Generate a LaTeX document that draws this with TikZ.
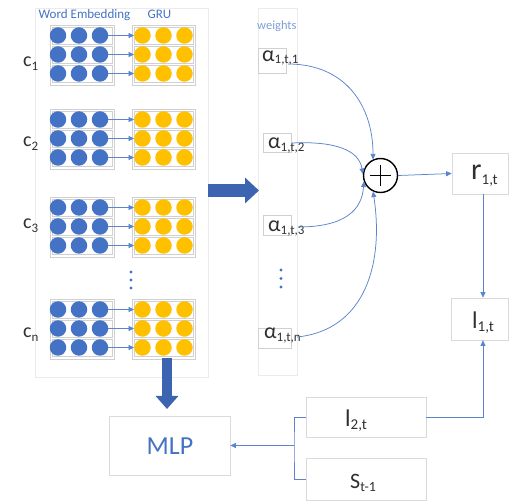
\documentclass[tikz,border=0pt]{standalone}
\usepackage{fontspec}
\setmainfont{Carlito}
\usetikzlibrary{arrows.meta}
\definecolor{eblue}{HTML}{4472C4}
\definecolor{gold}{HTML}{FFC000}
\definecolor{lblue}{HTML}{5B84CC}
\definecolor{dblue}{HTML}{3D64B0}
\definecolor{wblue}{HTML}{7F9FD9}
\definecolor{panelc}{HTML}{EBEBEB}
\definecolor{gboxc}{HTML}{D0D0D0}
\definecolor{bboxc}{HTML}{DADADA}
\definecolor{txtc}{HTML}{303030}
\newcommand{\Sb}[3]{\raisebox{-#1pt}{\fontsize{#2}{#2}\selectfont #3}}
\newcommand{\Fs}[1]{\fontsize{#1}{#1}\selectfont}
\begin{document}
\begin{tikzpicture}[x=1pt,y=-1pt,
  panelbox/.style={draw=panelc, line width=0.6pt, fill=none, inner sep=0pt},
  rowbox/.style={draw=gboxc, fill=white, line width=0.6pt, inner sep=0pt},
  bdot/.style={circle, fill=eblue, inner sep=0pt, minimum size=16.5pt},
  ydot/.style={circle, fill=gold, inner sep=0pt, minimum size=16.5pt},
  smalldot/.style={circle, fill=eblue, inner sep=0pt, minimum size=3.2pt},
  conn/.style={draw=lblue, line width=0.75pt, -{Triangle[length=5.5pt,width=5pt]}},
  line/.style={draw=lblue, line width=0.75pt},
  bigarrow/.style={draw=dblue, line width=#1},
  wbox/.style={draw=gboxc, fill=white, line width=0.6pt, inner sep=0pt},
  bbox/.style={draw=bboxc, fill=white, line width=0.7pt, inner sep=0pt},
  lab/.style={anchor=base west, inner sep=0pt, text=txtc},
]
\useasboundingbox (0,0) rectangle (509,502);

% panels
\node[panelbox, minimum width=173pt, minimum height=369pt] (lp) at (121.5,192.5) {};
\node[panelbox, minimum width=39pt, minimum height=367pt] (wp) at (277.5,191.5) {};

% headers
\node[lab, text=eblue] (hwe) at (38.5,19) {\Fs{13}Word Embedding};
\node[lab, text=eblue] (hgru) at (147.5,19) {\Fs{13}GRU};
\node[lab, text=wblue] (hw) at (257,30) {\Fs{12.5}weights};

% groups
\foreach \g/\t in {1/25, 2/109, 3/197, n/299} {
  \node[rowbox, minimum width=64pt, minimum height=60pt] (E\g) at (82, \t+30) {};
  \node[rowbox, minimum width=63pt, minimum height=60pt] (G\g) at (163.5, \t+30) {};
  \foreach \r/\dy in {1/10.5, 2/29.5, 3/48.5} {
    \node[rowbox, minimum width=60pt, minimum height=17pt] (er\g\r) at (82, \t+\dy) {};
    \node[rowbox, minimum width=59pt, minimum height=17pt] (gr\g\r) at (163.5, \t+\dy) {};
    \node[bdot] (e\g\r1) at (58, \t+\dy) {};
    \node[bdot] (e\g\r2) at (79, \t+\dy) {};
    \node[bdot] (e\g\r3) at (100, \t+\dy) {};
    \node[ydot] (y\g\r1) at (142.5, \t+\dy) {};
    \node[ydot] (y\g\r2) at (163.5, \t+\dy) {};
    \node[ydot] (y\g\r3) at (184.5, \t+\dy) {};
    \draw[conn] (e\g\r3.east) -- (y\g\r1.west);
  }
}

% c labels
\node[lab] (c1) at (23,67) {\Fs{20}c\Sb{4}{13}{1}};
\node[lab] (c2) at (23,147) {\Fs{20}c\Sb{4}{13}{2}};
\node[lab] (c3) at (23,229) {\Fs{20}c\Sb{4}{13}{3}};
\node[lab] (cn) at (23,338) {\Fs{20}c\Sb{4}{13}{n}};

% vertical dots
\node[smalldot] (ld1) at (131,272) {};
\node[smalldot] (ld2) at (131,280) {};
\node[smalldot] (ld3) at (131,288) {};
\node[smalldot] (wd1) at (281,270) {};
\node[smalldot] (wd2) at (281,278.5) {};
\node[smalldot] (wd3) at (281,287) {};

% big arrows
\coordinate (ba1) at (208,190.5);
\coordinate (ba2) at (259,190.5);
\draw[bigarrow=13pt, -{Triangle[length=14pt,width=25pt]}] (ba1) -- (ba2);
\coordinate (da1) at (167,358.5);
\coordinate (da2) at (167,409);
\draw[bigarrow=10pt, -{Triangle[length=13pt,width=22pt]}] (da1) -- (da2);

% alpha boxes
\node[wbox, minimum width=28pt, minimum height=25pt] (a1) at (272,60.5) {};
\node[wbox, minimum width=28pt, minimum height=19pt] (a2) at (277,142.5) {};
\node[wbox, minimum width=28pt, minimum height=20pt] (a3) at (277,225) {};
\node[wbox, minimum width=33pt, minimum height=20pt] (an) at (274.5,338) {};
\node[lab] (a1t) at (262,62) {\Fs{22}α\Sb{2}{13}{1,t,1}};
\node[lab] (a2t) at (268,149) {\Fs{22}α\Sb{2.5}{13}{1,t,2}};
\node[lab] (a3t) at (268,232) {\Fs{22}α\Sb{2.5}{13}{1,t,3}};
\node[lab] (ant) at (264,339) {\Fs{22}α\Sb{2.5}{13}{1,t,n}};

% sum node
\node[circle, draw=black, line width=1.4pt, minimum size=34pt, inner sep=0pt] (plus) at (380.5,175.5) {};
\draw[line width=1.5pt] ([xshift=-10.5pt]plus.center) -- ([xshift=10.5pt]plus.center);
\draw[line width=1.5pt] ([yshift=-10.5pt]plus.center) -- ([yshift=10.5pt]plus.center);

% curves
\coordinate (s1) at (288,64);
\coordinate (s2) at (292,143);
\coordinate (s3) at (298,227);
\coordinate (s4) at (297,337);
\draw[conn] (s1) .. controls (345,64) and (373,105) .. (plus.115);
\draw[conn] (s2) .. controls (335,141) and (359,150) .. (plus.175);
\draw[conn] (s3) .. controls (345,227) and (362,210) .. (plus.200);
\draw[conn] (s4) .. controls (366,330) and (384,262) .. (plus.245);

% right boxes
\node[bbox, minimum width=56pt, minimum height=41pt] (r1) at (480,173.5) {};
\node[bbox, minimum width=57pt, minimum height=42pt] (l1) at (479.5,319) {};
\node[lab] (r1t) at (471,180) {\Fs{30}r\Sb{5}{15}{1,t}};
\node[lab] (l1t) at (472,329) {\Fs{24}l\Sb{3}{15}{1,t}};
\draw[conn] (plus.east) -- (r1.west);
\coordinate (rx) at (483,0);
\draw[conn] (r1.south -| rx) -- (l1.north -| rx);

% bottom boxes
\node[bbox, minimum width=121pt, minimum height=59pt] (mlp) at (169.5,445.5) {};
\node[text=eblue, inner sep=0pt] (mlpt) at (170,446) {\Fs{26}MLP};
\node[bbox, minimum width=120pt, minimum height=40pt] (l2) at (366,417) {};
\node[bbox, minimum width=120pt, minimum height=42pt] (S) at (366,479) {};
\node[lab] (l2t) at (345,427) {\Fs{24}l\Sb{3}{15}{2,t}};
\node[lab] (St) at (350,489) {\Fs{22}S\Sb{3}{14}{t-1}};

\draw[conn] (l2.east) -| (l1.south -| rx);
\coordinate (jx) at (294,445.5);
\draw[line] (l2.west) -| (jx) |- (S.west);
\draw[conn] (jx) -- (mlp.east);
\end{tikzpicture}
\end{document}
